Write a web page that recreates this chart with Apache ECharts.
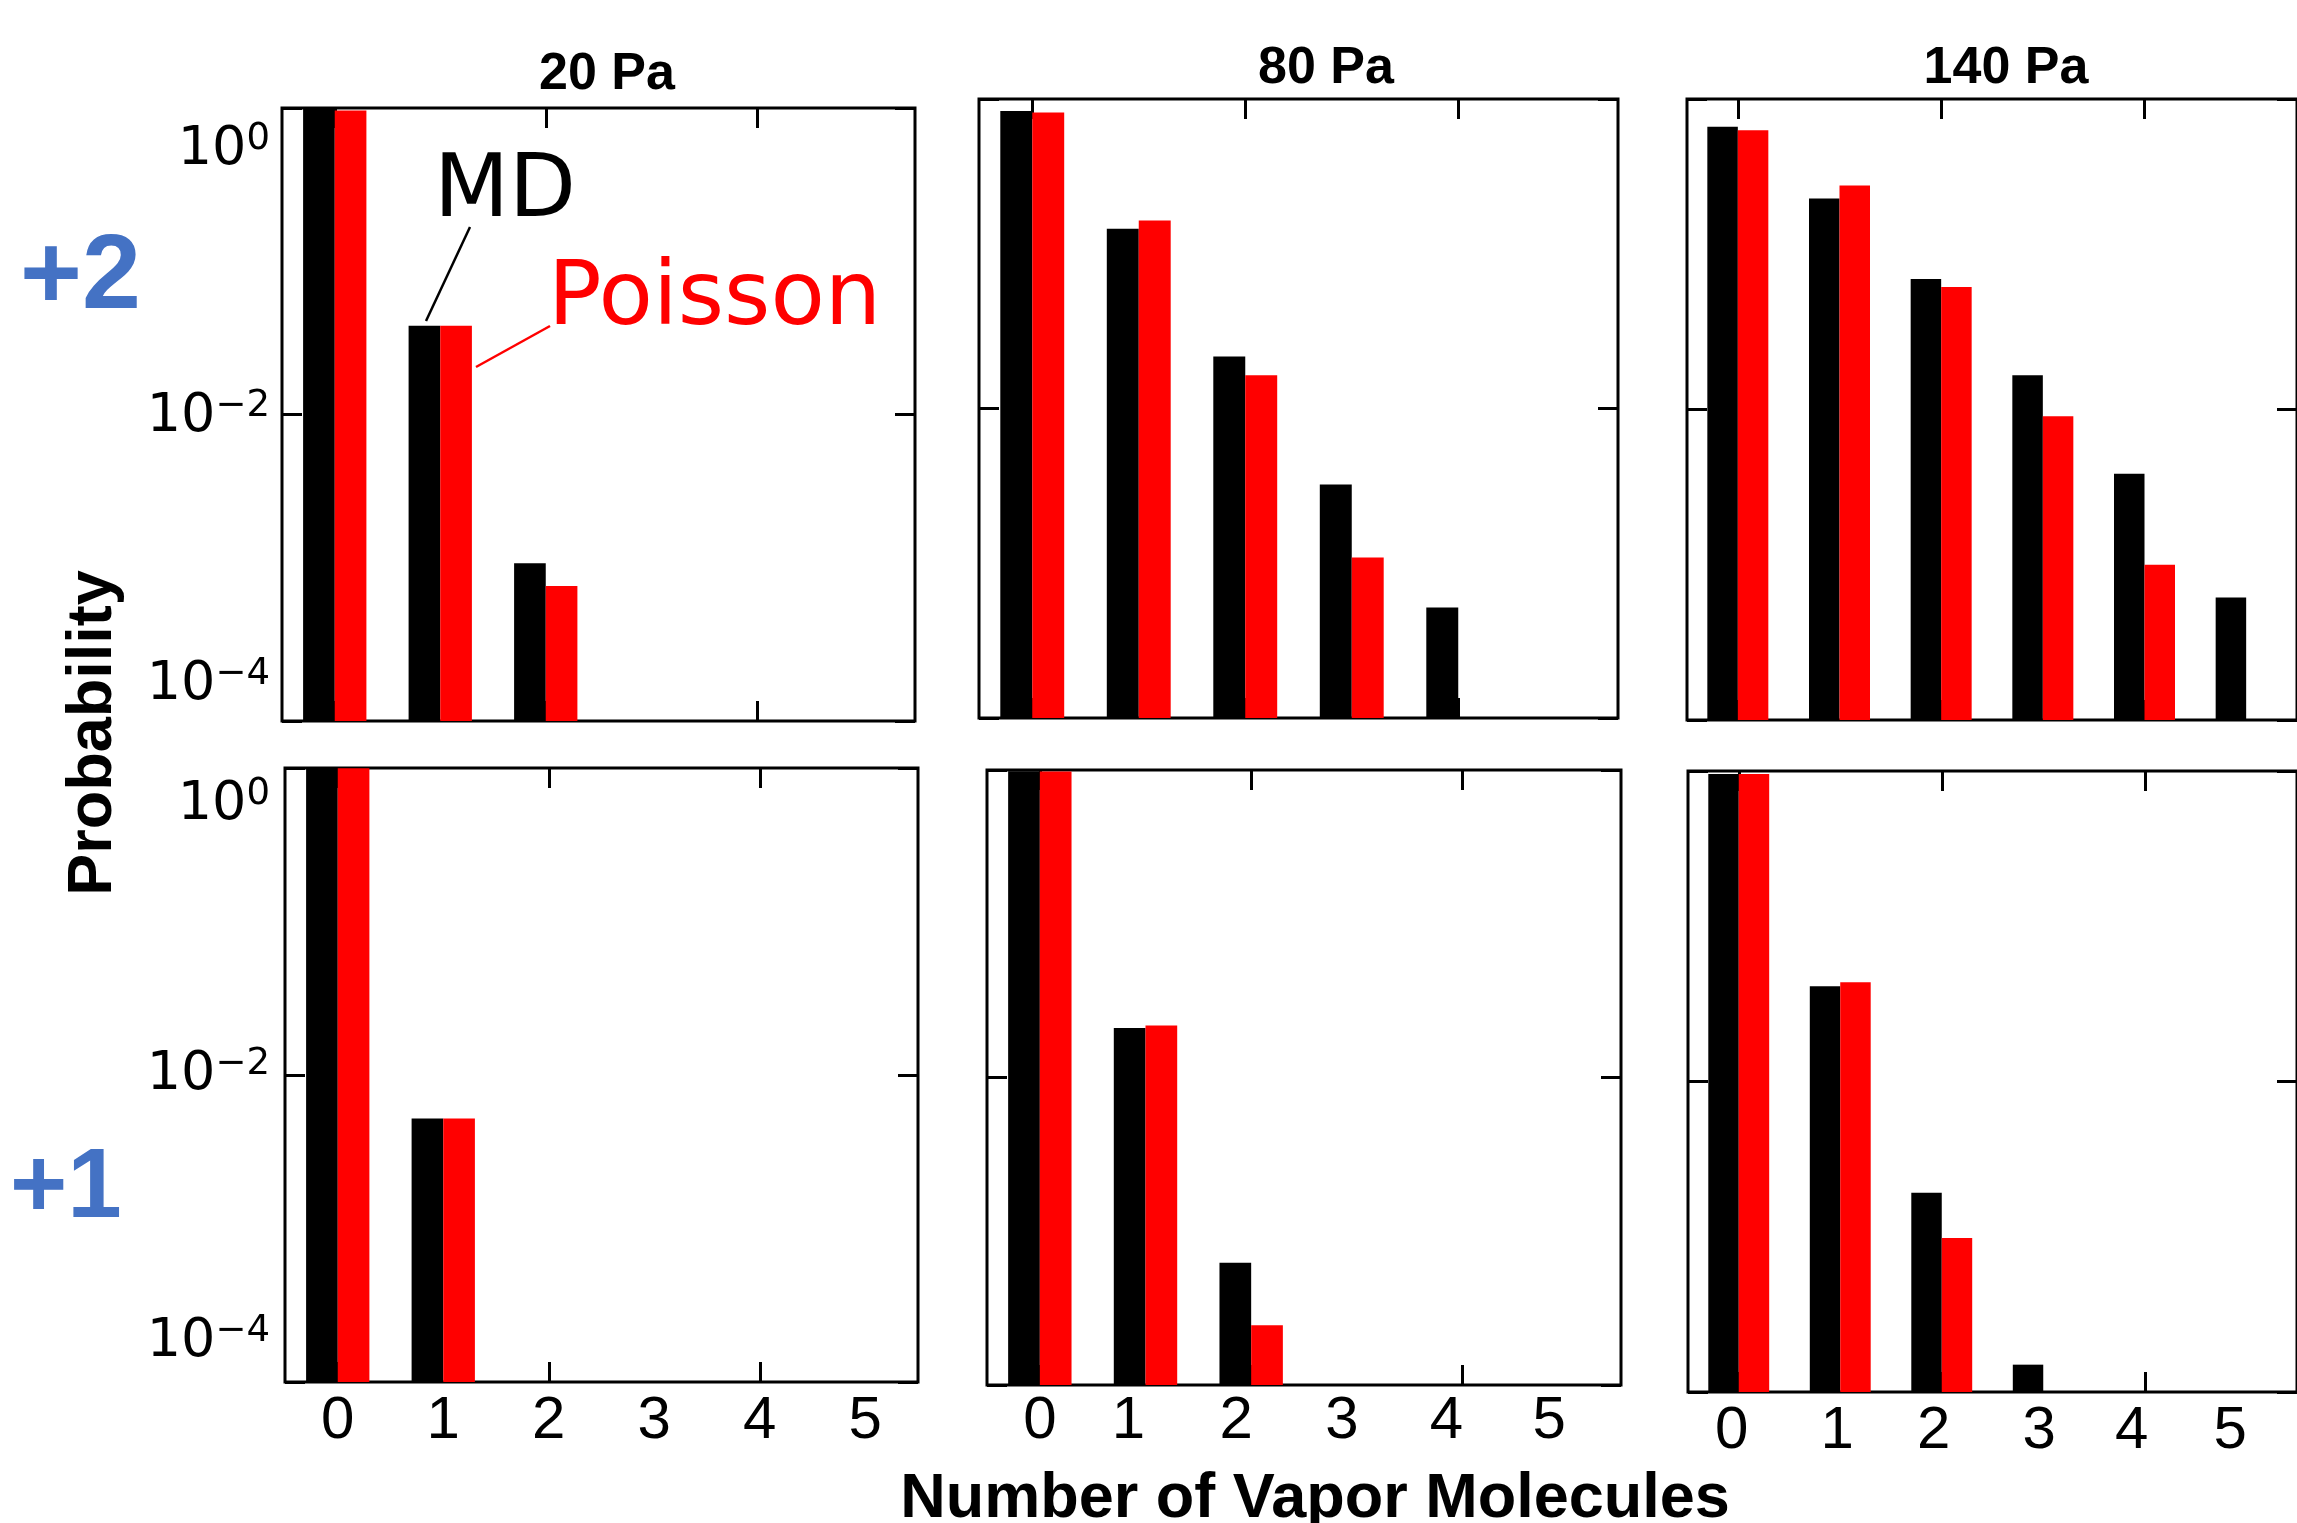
<!DOCTYPE html>
<html>
<head>
<meta charset="utf-8">
<script src="https://cdn.jsdelivr.net/npm/echarts@6/dist/echarts.min.js"></script>
<style>
html,body{margin:0;padding:0;background:#ffffff;}
#chart{width:2297px;height:1523px;}
</style>
</head>
<body>
<div id="chart"></div>
<script>
// ---------------- data ----------------
const categories = ['0', '1', '2', '3', '4', '5'];
const pressures = ['20 Pa', '80 Pa', '140 Pa'];
const charges = ['+2', '+1'];
const yTickExponents = [0, -2, -4];
const seriesNames = ['MD', 'Poisson'];

// charge +2 (top row)
const md_plus2_20Pa      = [0.99, 0.038, 0.00107, null, null, null];
const poisson_plus2_20Pa = [0.962, 0.038, 0.00076, null, null, null];
const md_plus2_80Pa      = [0.837, 0.145, 0.0217, 0.00323, 0.000518, null];
const poisson_plus2_80Pa = [0.819, 0.164, 0.0164, 0.00109, null, null];
const md_plus2_140Pa      = [0.663, 0.229, 0.0694, 0.0166, 0.00386, 0.000615];
const poisson_plus2_140Pa = [0.630, 0.277, 0.0615, 0.00906, 0.00100, null];

// charge +1 (bottom row)
const md_plus1_20Pa      = [0.995, 0.0052, null, null, null, null];
const poisson_plus1_20Pa = [0.995, 0.0052, null, null, null, null];
const md_plus1_80Pa      = [0.98, 0.0210, 0.000624, null, null, null];
const poisson_plus1_80Pa = [0.978, 0.0218, 0.000245, null, null, null];
const md_plus1_140Pa      = [0.955, 0.0410, 0.00192, 0.000150, null, null];
const poisson_plus1_140Pa = [0.957, 0.0435, 0.00098, null, null, null];

// ---------------- layout ----------------
const panels = [
  {rect: {left: 282, top: 108, width: 633, height: 613}, md: md_plus2_20Pa, po: poisson_plus2_20Pa, yLabels: true, yOff: [42, 2, -36], yMargin: 12, xLabels: false},
  {rect: {left: 979, top: 99, width: 639, height: 619}, md: md_plus2_80Pa, po: poisson_plus2_80Pa, yLabels: false, xLabels: false},
  {rect: {left: 1687, top: 99, width: 637, height: 621}, md: md_plus2_140Pa, po: poisson_plus2_140Pa, yLabels: false, xLabels: false},
  {rect: {left: 285, top: 768, width: 633, height: 614}, md: md_plus1_20Pa, po: poisson_plus1_20Pa, yLabels: true, yOff: [37, 0, -40], yMargin: 15, xLabels: true, xMargin: 9, xShift: [0, 0, 0, 0, 0, 0]},
  {rect: {left: 987, top: 770, width: 634, height: 615}, md: md_plus1_80Pa, po: poisson_plus1_80Pa, yLabels: false, xLabels: true, xMargin: 6, xShift: [0, -17, -15, -15, -16, -19]},
  {rect: {left: 1688, top: 771, width: 641, height: 621}, md: md_plus1_140Pa, po: poisson_plus1_140Pa, yLabels: false, xLabels: true, xMargin: 9, xShift: [-7, -3, -8, -4, -13, -16]}
];

const BLACK = '#000000';
const RED = '#ff0000';
const BLUE = '#4472C4';
const YMIN = 1e-4, YMAX = 1;

const grid = [], xAxis = [], yAxis = [], series = [];

const tickStyle = {show: true, inside: true, length: 20, lineStyle: {color: '#000', width: 3}};

panels.forEach(function (p, i) {
  grid.push(Object.assign({show: true, borderColor: '#000', borderWidth: 3, backgroundColor: 'transparent', containLabel: false}, p.rect));

  // bottom x axis
  const xRich = {};
  categories.forEach(function (c, k) {
    const s = p.xShift ? p.xShift[k] : 0;
    xRich['x' + k] = {fontFamily: 'Liberation Sans, Arial, sans-serif', fontSize: 60, lineHeight: 60, color: '#000',
      padding: s < 0 ? [0, -2 * s, 0, 0] : [0, 0, 0, 2 * s]};
  });
  xAxis.push({
    type: 'category', gridIndex: i, data: categories, position: 'bottom',
    axisLine: {show: false},
    axisTick: Object.assign({alignWithLabel: true, interval: function (idx) { return idx % 2 === 0; }}, tickStyle),
    axisLabel: {show: p.xLabels, interval: 0, margin: p.xMargin || 8,
      formatter: function (v, k) { return '{x' + k + '|' + v + '}'; }, rich: xRich},
    splitLine: {show: false}
  });
  // top mirror x axis (ticks only)
  xAxis.push({
    type: 'category', gridIndex: i, data: categories, position: 'top',
    axisLine: {show: false},
    axisTick: Object.assign({alignWithLabel: true, interval: function (idx) { return idx % 2 === 0; }}, tickStyle),
    axisLabel: {show: false}, splitLine: {show: false}
  });

  // left log y axis
  const yRich = {
    b: {fontFamily: 'DejaVu Sans, sans-serif', fontSize: 54, lineHeight: 58, color: '#000'},
    s: {fontFamily: 'DejaVu Sans, sans-serif', fontSize: 37, lineHeight: 30, color: '#000', verticalAlign: 'top'}
  };
  const off = p.yOff || [0, 0, 0];
  off.forEach(function (d, k) { yRich['g' + k] = {fontSize: 1, lineHeight: Math.max(1, 2 * Math.abs(d))}; });
  yAxis.push({
    type: 'log', logBase: 10, gridIndex: i, position: 'left',
    min: YMIN, max: YMAX, interval: 2, startValue: YMIN,
    axisLine: {show: false},
    axisTick: tickStyle,
    minorTick: {show: false},
    splitLine: {show: false},
    axisLabel: {
      show: p.yLabels, margin: p.yMargin || 12, showMinLabel: true, showMaxLabel: true,
      formatter: function (v) {
        const e = Math.round(Math.log10(v));
        const k = yTickExponents.indexOf(e);
        if (k < 0) return '';
        const exp = e === 0 ? '0' : '\u2212' + Math.abs(e);
        const main = '{b|10}{s|' + exp + '}';
        const d = off[k];
        if (d > 0) return '{g' + k + '| }\n' + main;
        if (d < 0) return main + '\n{g' + k + '| }';
        return main;
      },
      rich: yRich
    }
  });
  // right mirror y axis (ticks only)
  yAxis.push({
    type: 'log', logBase: 10, gridIndex: i, position: 'right',
    min: YMIN, max: YMAX, interval: 2,
    axisLine: {show: false}, axisTick: tickStyle, minorTick: {show: false},
    splitLine: {show: false}, axisLabel: {show: false}
  });

  series.push({
    name: seriesNames[0], type: 'bar', xAxisIndex: 2 * i, yAxisIndex: 2 * i,
    data: p.md, barWidth: '30%', barGap: '0%', clip: true,
    itemStyle: {color: BLACK}, silent: true
  });
  series.push({
    name: seriesNames[1], type: 'bar', xAxisIndex: 2 * i, yAxisIndex: 2 * i,
    data: p.po, barWidth: '30%', barGap: '0%', clip: true,
    itemStyle: {color: RED}, silent: true
  });
});

const titleFont = 'Liberation Sans, Arial, sans-serif';
const graphic = [
  // panel titles
  {type: 'text', x: 607, y: 75, style: {text: pressures[0], font: 'bold 52px ' + titleFont, fill: '#000', align: 'center', verticalAlign: 'middle'}},
  {type: 'text', x: 1326, y: 69, style: {text: pressures[1], font: 'bold 52px ' + titleFont, fill: '#000', align: 'center', verticalAlign: 'middle'}},
  {type: 'text', x: 2006, y: 69, style: {text: pressures[2], font: 'bold 52px ' + titleFont, fill: '#000', align: 'center', verticalAlign: 'middle'}},
  // charge labels
  {type: 'text', x: 20, y: 279, style: {text: charges[0], font: 'bold 106px ' + titleFont, fill: BLUE, align: 'left', verticalAlign: 'middle'}},
  {type: 'text', x: 10, y: 1190, style: {text: charges[1], font: 'bold 98px ' + titleFont, fill: BLUE, align: 'left', verticalAlign: 'middle'}},
  // axis titles
  {type: 'text', x: 1315, y: 1500, style: {text: 'Number of Vapor Molecules', font: 'bold 63px ' + titleFont, fill: '#000', align: 'center', verticalAlign: 'middle'}},
  {type: 'text', x: 94, y: 733, rotation: Math.PI / 2, style: {text: 'Probability', font: 'bold 63px ' + titleFont, fill: '#000', align: 'center', verticalAlign: 'middle'}},
  // annotations in first panel
  {type: 'text', x: 434, y: 193, style: {text: seriesNames[0], font: '87px DejaVu Sans, sans-serif', fill: BLACK, align: 'left', verticalAlign: 'middle'}},
  {type: 'text', x: 548, y: 301, style: {text: seriesNames[1], font: '89px DejaVu Sans, sans-serif', fill: RED, align: 'left', verticalAlign: 'middle'}},
  {type: 'line', shape: {x1: 470, y1: 227, x2: 426, y2: 321}, style: {stroke: BLACK, lineWidth: 2.5}},
  {type: 'line', shape: {x1: 550, y1: 326, x2: 476, y2: 367}, style: {stroke: RED, lineWidth: 2.5}}
];

const chart = echarts.init(document.getElementById('chart'), null, {renderer: 'canvas'});
chart.setOption({
  animation: false,
  backgroundColor: '#ffffff',
  grid: grid,
  xAxis: xAxis,
  yAxis: yAxis,
  series: series,
  graphic: graphic
});
</script>
</body>
</html>
